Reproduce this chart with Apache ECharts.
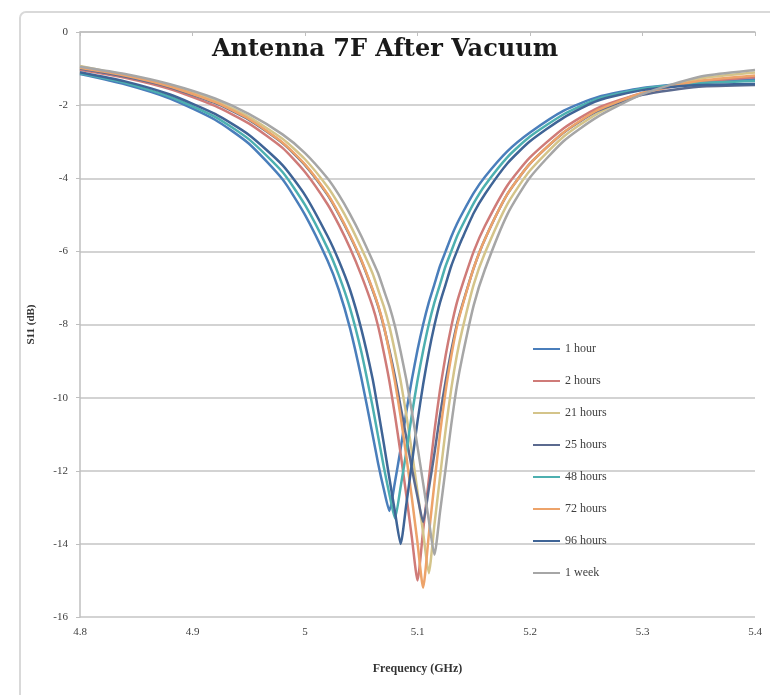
<!DOCTYPE html>
<html>
<head>
<meta charset="utf-8">
<script src="https://cdn.jsdelivr.net/npm/echarts@6/dist/echarts.min.js"></script>
<style>
  html, body { margin: 0; padding: 0; background: #ffffff; }
  #chart { width: 770px; height: 695px; }
</style>
</head>
<body>
<div id="chart"></div>
<script>
// Frequency sweep points (GHz), dense around the resonance
const freq = [4.80, 4.84, 4.88, 4.92, 4.95, 4.98, 5.00, 5.02, 5.03, 5.04, 5.05, 5.06, 5.065, 5.07, 5.075,
  5.08, 5.085, 5.09, 5.095, 5.10, 5.105, 5.11, 5.115, 5.12, 5.125, 5.13, 5.135, 5.14, 5.15, 5.16,
  5.18, 5.20, 5.23, 5.26, 5.30, 5.35, 5.40];

// S11 (dB) for each measurement time
const hour1 = [-1.15, -1.43, -1.82, -2.4, -3.05, -4.03, -5.0, -6.25, -7.05, -8.1, -9.45, -11.0, -11.8, -12.5, -13.1,
  -12.3, -11.4, -10.4, -9.5, -8.7, -8.0, -7.4, -6.9, -6.4, -6.0, -5.6, -5.25, -4.95, -4.4, -3.96,
  -3.26, -2.75, -2.15, -1.78, -1.53, -1.39, -1.29];
const hours2 = [-1.03, -1.25, -1.56, -2.02, -2.5, -3.17, -3.83, -4.71, -5.27, -5.91, -6.65, -7.5, -8.05, -8.76, -9.55,
  -10.49, -11.53, -12.66, -13.83, -15.0, -13.63, -12.26, -10.93, -9.79, -8.85, -8.06, -7.4, -6.9, -6.0, -5.3,
  -4.19, -3.43, -2.63, -2.08, -1.67, -1.37, -1.24];
const hours21 = [-0.93, -1.18, -1.47, -1.88, -2.32, -2.92, -3.48, -4.23, -4.71, -5.27, -5.91, -6.6, -7.05, -7.5, -8.05,
  -8.75, -9.54, -10.46, -11.48, -12.57, -13.69, -14.8, -13.49, -12.17, -10.88, -9.76, -8.84, -8.12, -6.9, -6.04,
  -4.7, -3.79, -2.86, -2.23, -1.68, -1.28, -1.11];
const hours25 = [-1.0, -1.22, -1.51, -1.94, -2.4, -3.04, -3.64, -4.45, -4.98, -5.58, -6.25, -7.05, -7.5, -8.05, -8.7,
  -9.42, -10.25, -11.08, -11.94, -12.71, -13.4, -12.51, -11.54, -10.48, -9.55, -8.72, -8.0, -7.45, -6.45, -5.66,
  -4.43, -3.6, -2.75, -2.16, -1.72, -1.5, -1.45];
const hours48 = [-1.13, -1.39, -1.77, -2.32, -2.93, -3.83, -4.73, -5.91, -6.65, -7.55, -8.74, -10.23, -11.06, -11.89, -12.64,
  -13.3, -12.44, -11.49, -10.46, -9.53, -8.72, -8.0, -7.4, -6.9, -6.4, -6.0, -5.6, -5.28, -4.68, -4.19,
  -3.42, -2.86, -2.25, -1.83, -1.55, -1.4, -1.34];
const hours72 = [-0.98, -1.19, -1.49, -1.92, -2.38, -3.02, -3.62, -4.43, -4.96, -5.56, -6.23, -7.03, -7.48, -8.03, -8.76,
  -9.57, -10.52, -11.59, -12.75, -13.97, -15.2, -13.77, -12.35, -10.99, -9.82, -8.87, -8.06, -7.48, -6.45, -5.66,
  -4.43, -3.6, -2.74, -2.14, -1.67, -1.34, -1.19];
const hours96 = [-1.1, -1.35, -1.71, -2.24, -2.81, -3.64, -4.46, -5.58, -6.25, -7.05, -8.12, -9.47, -10.34, -11.25, -12.2,
  -13.13, -14.0, -12.93, -11.8, -10.65, -9.64, -8.77, -8.03, -7.4, -6.9, -6.4, -6.0, -5.63, -4.95, -4.43,
  -3.59, -2.99, -2.34, -1.88, -1.59, -1.45, -1.42];
const week1 = [-0.95, -1.15, -1.43, -1.82, -2.24, -2.8, -3.31, -4.0, -4.45, -4.98, -5.58, -6.25, -6.6, -7.05, -7.5,
  -8.05, -8.74, -9.5, -10.38, -11.34, -12.34, -13.34, -14.3, -13.14, -11.94, -10.74, -9.68, -8.86, -7.47, -6.49,
  -4.98, -3.98, -2.98, -2.32, -1.7, -1.23, -1.04];

const seriesNames = ['1 hour', '2 hours', '21 hours', '25 hours', '48 hours', '72 hours', '96 hours', '1 week'];
const seriesValues = [hour1, hours2, hours21, hours25, hours48, hours72, hours96, week1];
const seriesColors = ['#4a7ebb', '#cf7b78', '#d4c48a', '#5b6a8f', '#4db0b0', '#eda36a', '#3f6496', '#a6a6a6'];

const serif = '"Liberation Serif", "DejaVu Serif", serif';

const chart = echarts.init(document.getElementById('chart'));
chart.setOption({
  animation: false,
  backgroundColor: '#ffffff',
  color: seriesColors,
  graphic: [{
    type: 'rect',
    shape: { x: 20, y: 12, width: 780, height: 720, r: 6 },
    style: { fill: 'none', stroke: '#d9d9d9', lineWidth: 2 },
    silent: true
  }],
  title: {
    text: 'Antenna 7F After Vacuum',
    left: 'center',
    top: 33,
    textStyle: { fontFamily: '"DejaVu Serif", serif', fontWeight: 'bold', fontSize: 24, color: '#1a1a1a' }
  },
  grid: { left: 80, right: 15, top: 32, bottom: 78 },
  legend: {
    orient: 'vertical',
    left: 528,
    top: 338,
    itemWidth: 27,
    itemHeight: 14,
    itemGap: 20,
    icon: 'path://M0,6 L27,6 L27,8 L0,8 Z',
    data: seriesNames,
    textStyle: { fontFamily: serif, fontSize: 12, color: '#404040' }
  },
  xAxis: {
    type: 'value',
    min: 4.8,
    max: 5.4,
    interval: 0.1,
    name: 'Frequency (GHz)',
    nameLocation: 'middle',
    nameGap: 46,
    nameTextStyle: { fontFamily: serif, fontWeight: 'bold', fontSize: 12, color: '#333333' },
    axisLine: { show: true, lineStyle: { color: '#bfbfbf', width: 1.5 } },
    axisTick: { show: true, length: 4, lineStyle: { color: '#bfbfbf' } },
    splitLine: { show: false },
    axisLabel: {
      fontFamily: serif, fontSize: 11, color: '#404040', margin: 10,
      formatter: v => String(Math.round(v * 10) / 10)
    }
  },
  yAxis: {
    type: 'value',
    min: -16,
    max: 0,
    interval: 2,
    name: 'S11 (dB)',
    nameLocation: 'middle',
    nameGap: 43,
    nameTextStyle: { fontFamily: serif, fontWeight: 'bold', fontSize: 11, color: '#333333' },
    axisLine: { show: true, lineStyle: { color: '#bfbfbf', width: 1.5 } },
    axisTick: { show: true, length: 4, lineStyle: { color: '#bfbfbf' } },
    splitLine: { show: true, lineStyle: { color: '#c4c4c4', width: 1.5 } },
    axisLabel: { fontFamily: serif, fontSize: 11, color: '#404040', margin: 12 }
  },
  series: seriesNames.map((name, k) => ({
    name,
    type: 'line',
    symbol: 'none',
    smooth: 0.2,
    lineStyle: { width: 2.5, color: seriesColors[k], join: 'round' },
    itemStyle: { color: seriesColors[k] },
    data: freq.map((f, i) => [f, seriesValues[k][i]])
  }))
});
</script>
</body>
</html>
